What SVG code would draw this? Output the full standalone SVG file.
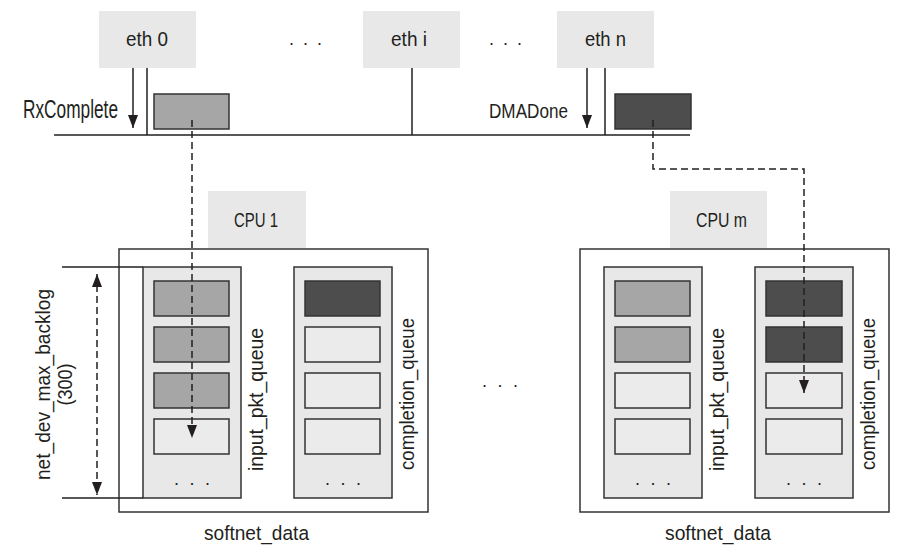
<svg xmlns="http://www.w3.org/2000/svg" width="911" height="555" viewBox="0 0 911 555">
<style>
text{font-family:"Liberation Sans",Arial,sans-serif;font-size:20.5px;fill:#231f20}
.big{font-size:25px}
.dots{font-size:18px}
.lbl{fill:#e8e8e8}
.out{fill:#fff;stroke:#333;stroke-width:1.5}
.col{fill:#e8e8e8;stroke:#333;stroke-width:1.5}
.e{fill:#ebebeb;stroke:#333;stroke-width:1.5}
.g{fill:#a6a6a6;stroke:#333;stroke-width:1.5}
.d{fill:#4d4d4d;stroke:#333;stroke-width:1.5}
.ln{fill:none;stroke:#231f20;stroke-width:1.5}
.dash{fill:none;stroke:#231f20;stroke-width:1.5;stroke-dasharray:7 4}
</style>
<defs>
<marker id="ah" markerUnits="userSpaceOnUse" markerWidth="13" markerHeight="10" refX="13" refY="5" orient="auto">
<path d="M0,0 L13,5 L0,10 z" fill="#231f20"/>
</marker>
<marker id="ahs" markerUnits="userSpaceOnUse" markerWidth="13" markerHeight="10" refX="13" refY="5" orient="auto-start-reverse">
<path d="M0,0 L13,5 L0,10 z" fill="#231f20"/>
</marker>
</defs>

<g id="eth0"><rect class="lbl" x="99" y="11" width="97" height="57"/><text x="126" y="45.5" textLength="42" lengthAdjust="spacingAndGlyphs">eth 0</text></g>
<g id="ethi"><rect class="lbl" x="363" y="11" width="97" height="57"/><text x="391" y="45.5" textLength="36" lengthAdjust="spacingAndGlyphs">eth i</text></g>
<g id="ethn"><rect class="lbl" x="557" y="11" width="97" height="57"/><text x="585" y="45.5" textLength="41" lengthAdjust="spacingAndGlyphs">eth n</text></g>
<text class="dots" x="289" y="45" textLength="33" lengthAdjust="spacing">. . .</text>
<text class="dots" x="489" y="45" textLength="33" lengthAdjust="spacing">. . .</text>
<text class="dots" x="482" y="387" textLength="36" lengthAdjust="spacing">. . .</text>

<g id="rxlabel"><text class="big" x="23" y="117.7" textLength="95" lengthAdjust="spacingAndGlyphs">RxComplete</text></g>
<g id="dmalabel"><text x="489" y="118" textLength="79" lengthAdjust="spacingAndGlyphs">DMADone</text></g>
<g id="pkt-gray"><rect class="g" x="154" y="94" width="75" height="35"/></g>
<g id="pkt-dark"><rect class="d" x="615" y="94" width="76" height="35"/></g>

<g id="cpu1">
<rect class="lbl" x="208" y="191" width="98" height="57"/>
<text x="234" y="227" textLength="44" lengthAdjust="spacingAndGlyphs">CPU 1</text>
<rect class="out" x="119" y="249" width="309" height="263"/>
<rect class="col" x="143" y="267" width="98" height="231"/>
<rect class="g" x="154" y="281" width="75" height="35"/>
<rect class="g" x="154" y="327" width="75" height="35"/>
<rect class="g" x="154" y="373" width="75" height="35"/>
<rect class="e" x="154" y="419" width="75" height="35"/>
<text class="dots" x="174" y="485" textLength="36" lengthAdjust="spacing">. . .</text>
<text transform="translate(263,471) rotate(-90)" textLength="143" lengthAdjust="spacingAndGlyphs">input_pkt_queue</text>
<rect class="col" x="294" y="267" width="98" height="231"/>
<rect class="d" x="305" y="281" width="75" height="35"/>
<rect class="e" x="305" y="327" width="75" height="35"/>
<rect class="e" x="305" y="373" width="75" height="35"/>
<rect class="e" x="305" y="419" width="75" height="35"/>
<text class="dots" x="325" y="485" textLength="36" lengthAdjust="spacing">. . .</text>
<text transform="translate(414,470) rotate(-90)" textLength="152" lengthAdjust="spacingAndGlyphs">completion_queue</text>
<text x="204" y="540" textLength="105" lengthAdjust="spacingAndGlyphs">softnet_data</text>
</g>

<g id="cpum">
<rect class="lbl" x="670" y="191" width="97" height="57"/>
<text x="696" y="227" textLength="51" lengthAdjust="spacingAndGlyphs">CPU m</text>
<rect class="out" x="580" y="249" width="309" height="263"/>
<rect class="col" x="604" y="267" width="98" height="231"/>
<rect class="g" x="615" y="281" width="75" height="35"/>
<rect class="g" x="615" y="327" width="75" height="35"/>
<rect class="e" x="615" y="373" width="75" height="35"/>
<rect class="e" x="615" y="419" width="75" height="35"/>
<text class="dots" x="635" y="485" textLength="36" lengthAdjust="spacing">. . .</text>
<text transform="translate(724,471) rotate(-90)" textLength="143" lengthAdjust="spacingAndGlyphs">input_pkt_queue</text>
<rect class="col" x="755" y="267" width="98" height="231"/>
<rect class="d" x="766" y="281" width="76" height="35"/>
<rect class="d" x="766" y="327" width="76" height="35"/>
<rect class="e" x="766" y="373" width="76" height="35"/>
<rect class="e" x="766" y="419" width="76" height="35"/>
<text class="dots" x="786" y="485" textLength="36" lengthAdjust="spacing">. . .</text>
<text transform="translate(875,470) rotate(-90)" textLength="152" lengthAdjust="spacingAndGlyphs">completion_queue</text>
<text x="665" y="540" textLength="106" lengthAdjust="spacingAndGlyphs">softnet_data</text>
</g>

<g id="backlog">
<text transform="translate(50,384.5) rotate(-90)" text-anchor="middle" textLength="191" lengthAdjust="spacingAndGlyphs">net_dev_max_backlog</text>
<text transform="translate(72,384.5) rotate(-90)" text-anchor="middle" textLength="42" lengthAdjust="spacingAndGlyphs">(300)</text>
</g>

<g id="connectors">
<line class="ln" x1="54" y1="135" x2="690" y2="135"/>
<line class="ln" x1="133" y1="68" x2="133" y2="128" marker-end="url(#ah)"/>
<line class="ln" x1="147" y1="68" x2="147" y2="135"/>
<line class="ln" x1="412" y1="68" x2="412" y2="135"/>
<line class="ln" x1="587" y1="68" x2="587" y2="128" marker-end="url(#ah)"/>
<line class="ln" x1="605" y1="68" x2="605" y2="135"/>
<path class="dash" d="M192,120 V438" marker-end="url(#ah)"/>
<path class="dash" d="M653,120 V169 H804 V393" marker-end="url(#ah)"/>
<line class="ln" x1="62" y1="267" x2="143" y2="267"/>
<line class="ln" x1="62" y1="498" x2="143" y2="498"/>
<line class="dash" x1="97" y1="274" x2="97" y2="495" marker-start="url(#ahs)" marker-end="url(#ah)"/>
</g>
</svg>
